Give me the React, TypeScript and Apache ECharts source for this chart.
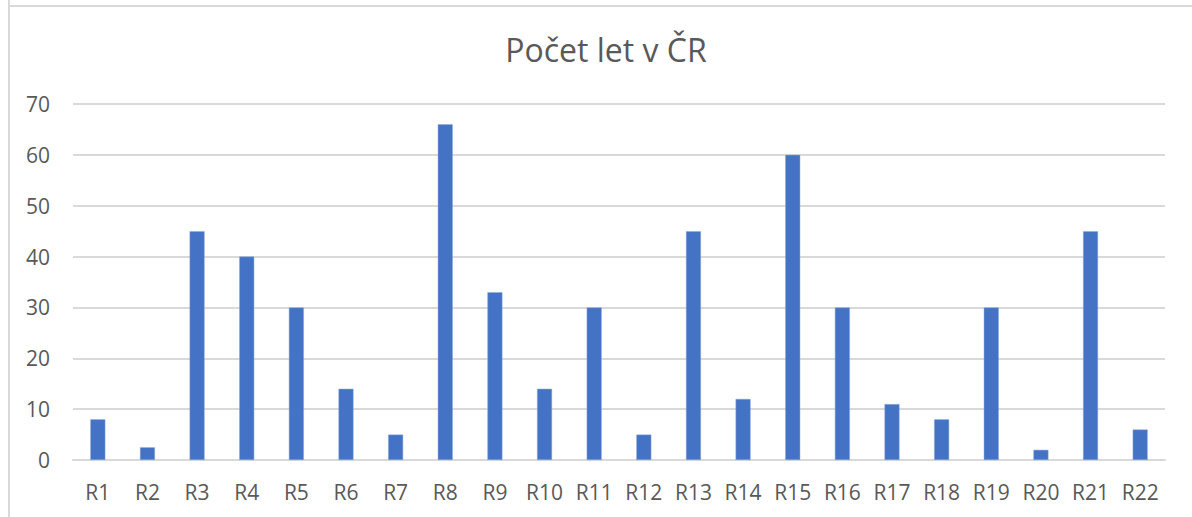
import React, { useEffect, useRef } from "react";
import * as echarts from "echarts";

const categories = ["R1","R2","R3","R4","R5","R6","R7","R8","R9","R10","R11","R12","R13","R14","R15","R16","R17","R18","R19","R20","R21","R22"];
const values = [8, 2.5, 45, 40, 30, 14, 5, 66, 33, 14, 30, 5, 45, 12, 60, 30, 11, 8, 30, 2, 45, 6];
const yTicks = { min: 0, max: 70, interval: 10 };
const title = "Počet let v ČR";

export default function App() {
  const ref = useRef<HTMLDivElement>(null);
  useEffect(() => {
    if (!ref.current) return;
    const chart = echarts.init(ref.current, null, { renderer: "svg" });
    const font = "'Open Sans', 'Noto Sans', sans-serif";
    chart.setOption({
      animation: false,
      backgroundColor: "#ffffff",
      title: {
        text: title,
        left: 601,
        top: 28,
        textAlign: "center",
        textStyle: { fontFamily: font, fontSize: 32, fontWeight: "normal", color: "#595959" },
      },
      graphic: [
        { type: "line", shape: { x1: 9, y1: 0, x2: 9, y2: 517 }, style: { stroke: "#d9d9d9", lineWidth: 2 } },
        { type: "line", shape: { x1: 8, y1: 6, x2: 1192, y2: 6 }, style: { stroke: "#d9d9d9", lineWidth: 2 } },
      ],
      grid: { left: 73, right: 27, top: 104, bottom: 57 },
      xAxis: {
        type: "category",
        data: categories,
        axisLine: { show: true, lineStyle: { color: "#d9d9d9", width: 2 } },
        axisTick: { show: false },
        axisLabel: { fontFamily: font, fontSize: 21, color: "#595959", margin: 21 },
      },
      yAxis: {
        type: "value",
        min: yTicks.min,
        max: yTicks.max,
        interval: yTicks.interval,
        axisLine: { show: false },
        axisTick: { show: false },
        splitLine: { lineStyle: { color: "#d9d9d9", width: 2 } },
        axisLabel: { fontFamily: font, fontSize: 21, color: "#595959", margin: 23 },
      },
      series: [
        {
          type: "bar",
          data: values,
          barWidth: 15,
          itemStyle: { color: "#4472C4", borderColor: "#8faadc", borderWidth: 0.5 },
        },
      ],
    });
    return () => chart.dispose();
  }, []);
  return <div ref={ref} style={{ position: "absolute", left: 0, top: 0, width: 1192, height: 517 }} />;
}
